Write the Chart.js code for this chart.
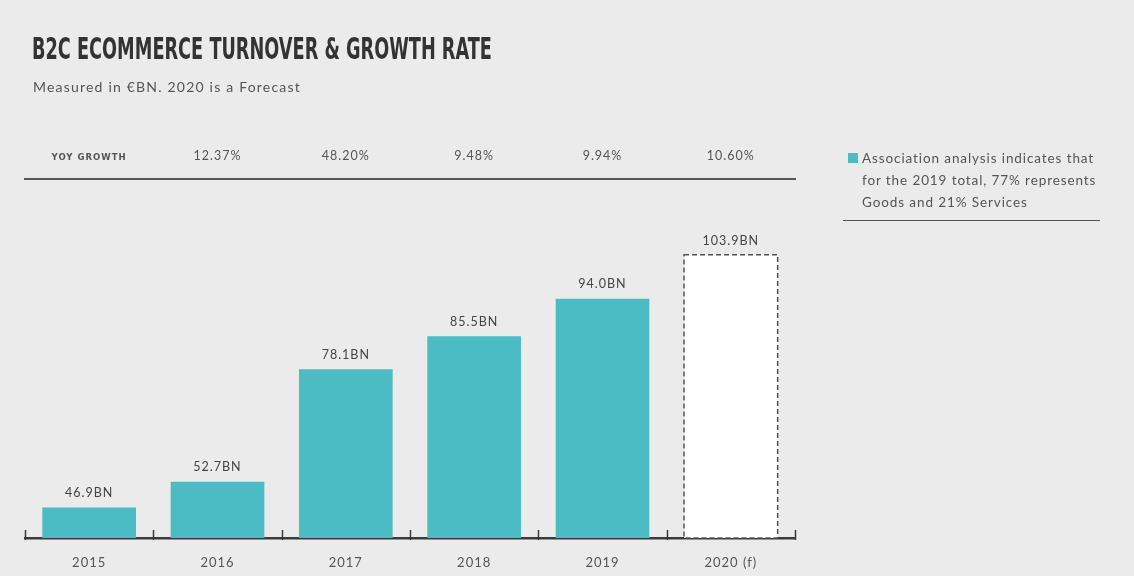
<!DOCTYPE html>
<html>
<head>
<meta charset="utf-8">
<title>B2C Ecommerce Turnover & Growth Rate</title>
<script src="https://cdn.jsdelivr.net/npm/chart.js@4/dist/chart.umd.min.js"></script>
<style>
  html, body { margin: 0; padding: 0; background: #ebebeb; }
  #wrap { position: relative; width: 1134px; height: 576px; overflow: hidden; }
  #chart { position: absolute; left: 0; top: 0; }
  .title {
    position: absolute; left: 32px; top: 30px; white-space: nowrap;
    font-family: "DejaVu Sans Condensed", "DejaVu Sans", sans-serif;
    font-weight: bold; font-size: 31px; color: #333;
    transform: scaleX(0.635); transform-origin: left top;
  }
  .subtitle {
    position: absolute; left: 33px; top: 78px;
    font-family: "Lato", sans-serif; font-size: 14px; letter-spacing: 1.2px; color: #555;
  }
  .note {
    position: absolute; left: 843px; top: 147px; width: 257px;
    display: flex; align-items: flex-start;
    font-family: "Lato", sans-serif; font-size: 13.5px; letter-spacing: 0.9px;
    line-height: 22px; color: #555;
    padding-bottom: 7px; border-bottom: 1.5px solid #555;
  }
  .note .swatch {
    flex: none; width: 10px; height: 10px; background: #4bbcc3;
    margin: 6px 4px 0 5px;
  }
  .note .body { white-space: nowrap; }
</style>
</head>
<body>
<div id="wrap">
  <canvas id="chart" width="1134" height="576"></canvas>
  <div class="title">B2C ECOMMERCE TURNOVER &amp; GROWTH RATE</div>
  <div class="subtitle">Measured in €BN. 2020 is a Forecast</div>
  <div class="note"><span class="swatch"></span><span class="body">Association analysis indicates that<br>for the 2019 total, 77% represents<br>Goods and 21% Services</span></div>
</div>
<script>
const years = ['2015', '2016', '2017', '2018', '2019', '2020 (f)'];
const turnover = [46.9, 52.7, 78.1, 85.5, 94.0, 103.9];
const growthLabels = ['YOY GROWTH', '12.37%', '48.20%', '9.48%', '9.94%', '10.60%'];
const forecastIndex = 5;

const teal = '#4bbcc3';
const ink = '#3a3a3a';

// the labels in this chart are set a little apart
const spacedText = {
  id: 'spacedText',
  beforeDraw(chart) {
    chart.ctx.letterSpacing = '1px';
  }
};

// value labels above bars, dashed outline for the forecast bar, short ticks on the axis
const barExtras = {
  id: 'barExtras',
  afterDatasetsDraw(chart) {
    const ctx = chart.ctx;
    const meta = chart.getDatasetMeta(0);
    const x = chart.scales.x;
    const bottom = chart.chartArea.bottom;

    ctx.save();
    meta.data.forEach((bar, i) => {
      if (i === forecastIndex) {
        const left = bar.x - bar.width / 2;
        const base = Math.min(bar.base, bottom);
        ctx.setLineDash([5, 3]);
        ctx.lineWidth = 1.5;
        ctx.strokeStyle = '#555';
        ctx.strokeRect(left, bar.y, bar.width, base - bar.y);
        ctx.setLineDash([]);
      }
      ctx.fillStyle = '#444';
      ctx.font = '12.5px Lato, sans-serif';
      ctx.textAlign = 'center';
      ctx.textBaseline = 'bottom';
      ctx.fillText(turnover[i].toFixed(1) + 'BN', bar.x, bar.y - 8);
    });

    ctx.strokeStyle = ink;
    ctx.lineWidth = 1.5;
    for (let i = 0; i <= years.length; i++) {
      const px = Math.round(x.getPixelForValue(i - 0.5)) + 0.5;
      ctx.beginPath();
      ctx.moveTo(px, bottom - 8);
      ctx.lineTo(px, bottom + 2);
      ctx.stroke();
    }
    ctx.restore();
  }
};

new Chart(document.getElementById('chart'), {
  type: 'bar',
  data: {
    labels: years,
    datasets: [{
      data: turnover,
      backgroundColor: turnover.map((v, i) => i === forecastIndex ? '#ffffff' : teal),
      borderWidth: 0,
      barPercentage: 0.73,
      categoryPercentage: 1
    }]
  },
  options: {
    responsive: false,
    animation: false,
    layout: { padding: { left: 25, right: 339, top: 130, bottom: 0 } },
    plugins: {
      legend: { display: false },
      tooltip: { enabled: false }
    },
    scales: {
      x: {
        position: 'bottom',
        grid: { display: false },
        border: { display: true, color: ink, width: 2.5 },
        ticks: { color: '#555', padding: 9, font: { family: 'Lato', size: 13 } },
        afterFit(scale) { scale.height = 38; }
      },
      x2: {
        type: 'category',
        position: 'top',
        labels: growthLabels,
        grid: { display: false },
        border: { display: true, color: '#555', width: 2 },
        ticks: {
          color: '#555',
          padding: 8,
          font: (c) => c.index === 0
            ? { family: 'DejaVu Sans Condensed', weight: 'bold', size: 9.5 }
            : { family: 'Lato', size: 12.5 }
        },
        afterFit(scale) { scale.height = 49; }
      },
      y: { display: false, min: 40, max: 121 }
    }
  },
  plugins: [spacedText, barExtras]
});
</script>
</body>
</html>
